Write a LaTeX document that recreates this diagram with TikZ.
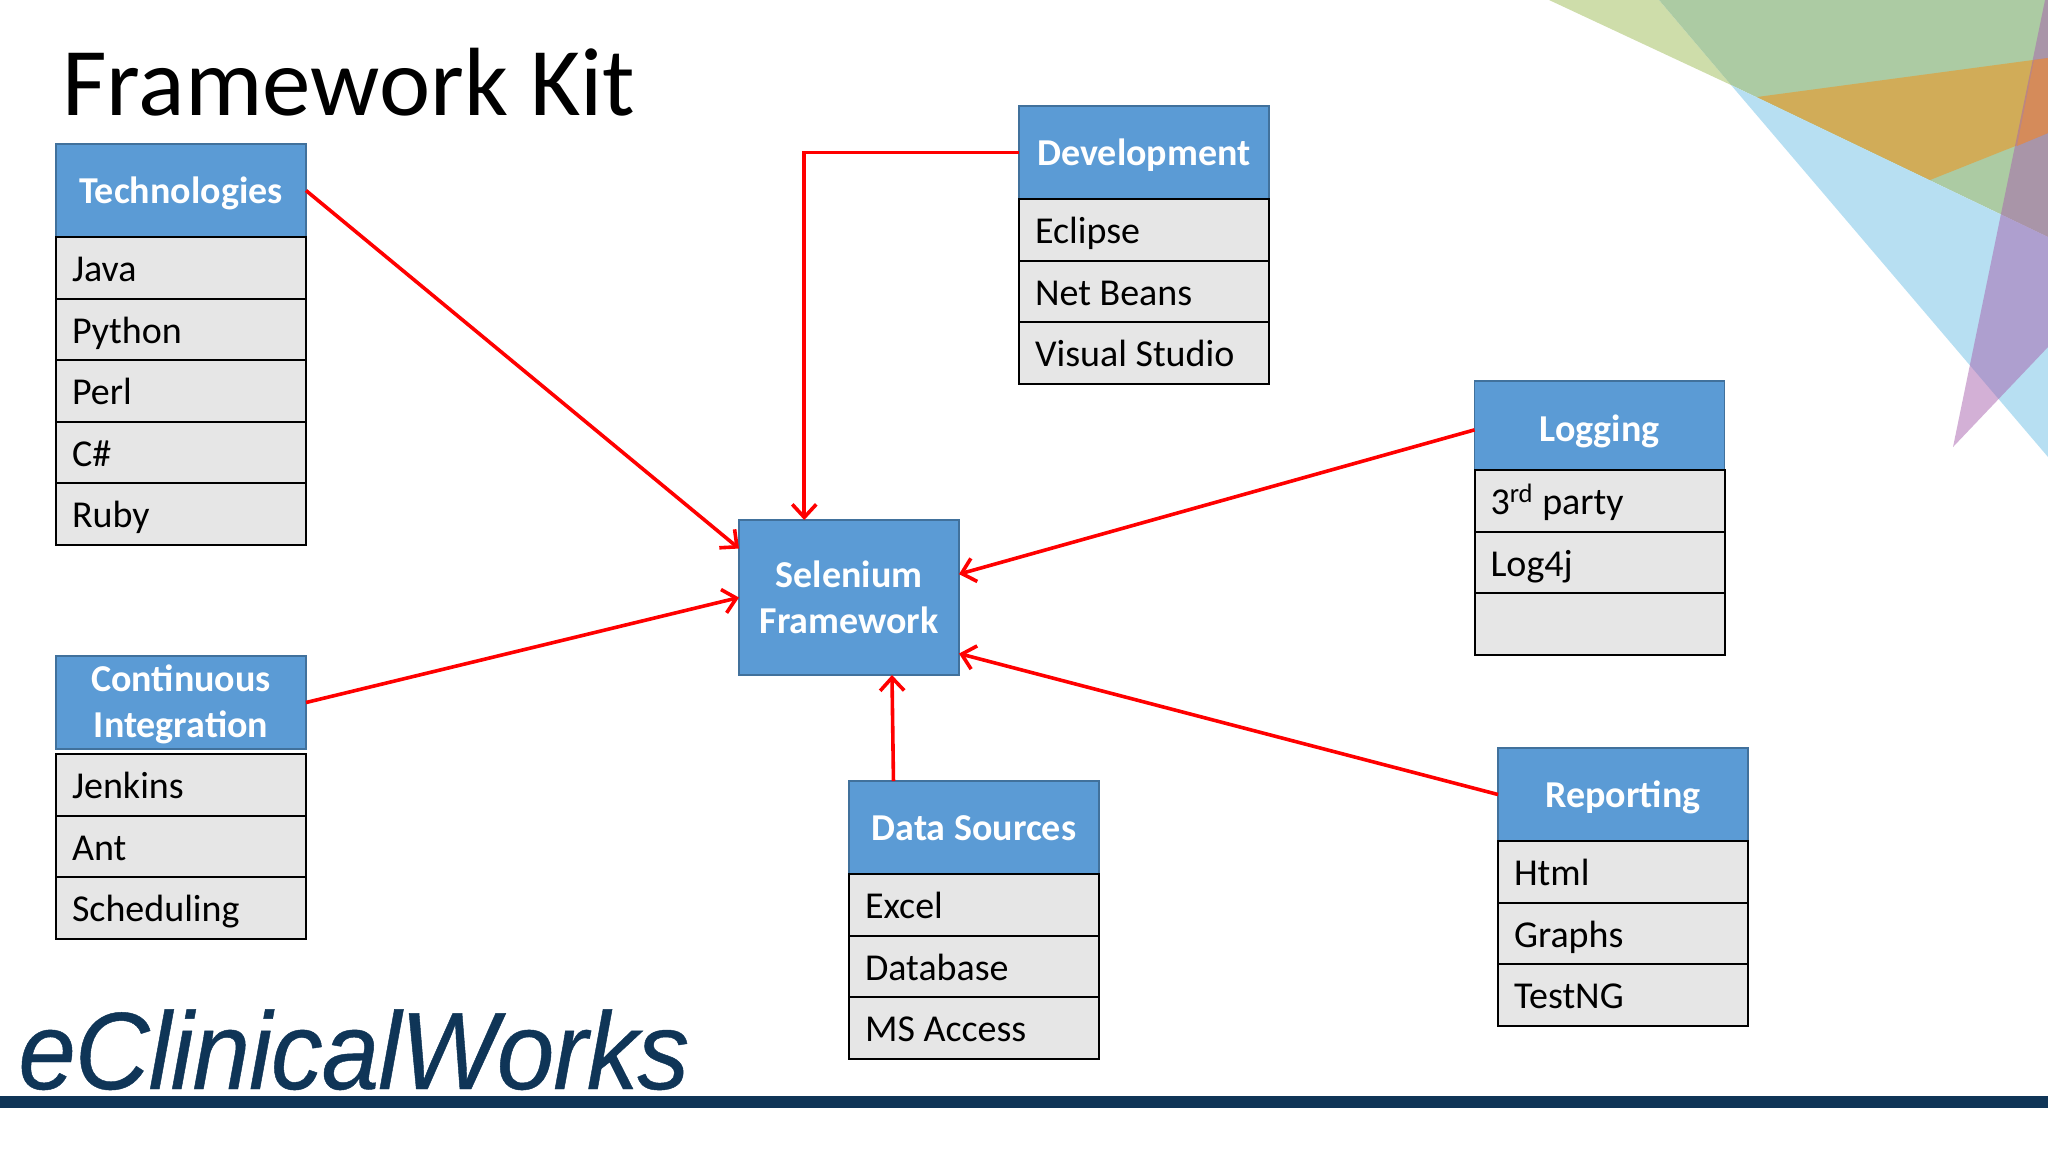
\documentclass[tikz,border=0pt]{standalone}
\usepackage{fontspec}
\setmainfont{Carlito}
\newfontfamily\logofont[LetterSpace=-0.9,FakeStretch=0.94,FakeBold=0.4]{Liberation Sans}
\usetikzlibrary{arrows.meta,positioning}

\definecolor{headblue}{HTML}{5B9BD5}
\definecolor{headedge}{HTML}{41719C}
\definecolor{rowgray}{HTML}{E6E6E6}
\definecolor{navy}{HTML}{0F3557}

\tikzset{
  head/.style={rectangle,draw=headedge,fill=headblue,text=white,line width=0.8pt,
    font=\fontsize{19}{23}\bfseries\selectfont,align=center,inner sep=0pt,outer sep=0pt,
    minimum width=125pt,minimum height=46.5pt,anchor=north west},
  oneline/.style={text height=17pt,text depth=4.3pt},
  row/.style={rectangle,draw=black,fill=rowgray,line width=1pt,
    font=\fontsize{19}{23}\selectfont,align=flush left,inner ysep=0pt,inner xsep=8pt,outer sep=0pt,
    text width=109pt,text height=18pt,text depth=4.2pt,minimum height=30.75pt},
  link/.style={draw=red,line width=1.8pt,-{Straight Barb[length=6.5pt,width=12pt]}}
}

\begin{document}
\begin{tikzpicture}[x=0.5pt,y=-0.5pt]
\useasboundingbox (0,0) rectangle (2048,1152);

% corner triangles
\fill[fill={rgb,255:red,206;green,221;blue,170}] (1549,0) -- (1731,85) -- (1659,0) -- cycle;
\fill[fill={rgb,255:red,172;green,203;blue,163}] (1659,0) -- (2048,0) -- (2048,237) -- (1731,85) -- cycle;
\fill[fill={rgb,255:red,183;green,223;blue,242}] (1731,85) -- (2048,237) -- (2048,457) -- cycle;
\fill[fill={rgb,255:red,209;green,172;blue,88}] (1757,97) -- (2048,58) -- (2048,133) -- (1930,180) -- cycle;
\fill[fill={rgb,255:red,167;green,97;blue,173},opacity=0.5] (1953,447) -- (2045,0) -- (2048,0) -- (2048,347) -- cycle;
\fill[fill={rgb,255:red,213;green,139;blue,90}] (2034,60) -- (2048,58) -- (2048,133) -- (2017,146) -- cycle;

\node[anchor=base west,inner sep=0pt,font=\fontsize{48.5}{48.5}\selectfont] (title) at (62,115) {Framework Kit};

% logo and bar
\node[anchor=base west,inner sep=0pt,text=navy,font=\fontsize{55}{55}\logofont\itshape] (logo) at (18,1089) {eClinicalWorks};
\fill[navy] (0,1096) rectangle (2048,1108);

\node[head,minimum width=110pt,minimum height=77.5pt] (selenium) at (739,520) {Selenium\\Framework};

% technologies
\node[head,oneline] (tech) at (56,144) {Technologies};
\node[row,below=0pt of tech] (java) {Java};
\node[row,below=0pt of java] (python) {Python};
\node[row,below=0pt of python] (perl) {Perl};
\node[row,below=0pt of perl] (csharp) {C\#};
\node[row,below=0pt of csharp] (ruby) {Ruby};

% continuous integration
\node[head] (ci) at (56,656) {\rule{0pt}{15pt}Continuous\\Integration};
\node[row,below=2.5pt of ci] (jenkins) {Jenkins};
\node[row,below=0pt of jenkins] (ant) {Ant};
\node[row,below=0pt of ant] (sched) {Scheduling};

% development
\node[head,oneline] (dev) at (1019,106) {Development};
\node[row,below=0pt of dev] (eclipse) {Eclipse};
\node[row,below=0pt of eclipse] (netbeans) {Net Beans};
\node[row,below=0pt of netbeans] (vstudio) {Visual Studio};

% logging
\node[head,oneline,minimum height=44.5pt,text height=20pt] (logging) at (1474.5,381) {Logging};
\node[row,below=0pt of logging] (third) {3\textsuperscript{rd} party};
\node[row,below=0pt of third] (logfj) {Log4j};
\node[row,below=0pt of logfj] (blank) {};

% data sources
\node[head,oneline] (data) at (849,781) {Data Sources};
\node[row,below=0pt of data] (excel) {Excel};
\node[row,below=0pt of excel] (database) {Database};
\node[row,below=0pt of database] (access) {MS Access};

% reporting
\node[head,oneline] (report) at (1498,748) {Reporting};
\node[row,below=0pt of report] (html) {Html};
\node[row,below=0pt of html] (graphs) {Graphs};
\node[row,below=0pt of graphs] (testng) {TestNG};

\draw[link] (tech.east) -- (selenium.156.7);
\draw[link] (ci.east) -- (selenium.west);
\draw[link] (dev.west) -| (selenium.120.4);
\draw[link] (logging.182.1) -- (selenium.12.5);
\draw[link] (report.west) -- (selenium.-27.9);
\draw[link] (data.150.6) -- (selenium.-61.3);

\end{tikzpicture}
\end{document}
